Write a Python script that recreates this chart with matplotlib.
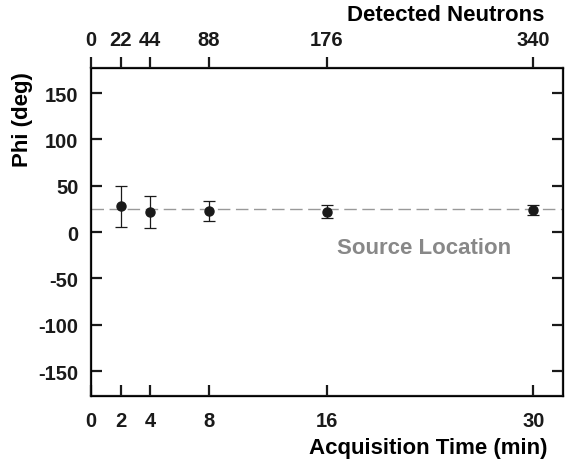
import numpy as np
import matplotlib
matplotlib.use("Agg")
import matplotlib.pyplot as plt

plt.rcParams['font.family'] = ['Liberation Sans', 'DejaVu Sans']
plt.rcParams['font.weight'] = 'bold'

# data
time_min = [2, 4, 8, 16, 30]
phi_deg = [28, 22, 23, 22, 23.5]
phi_err = [22, 17, 10.5, 7, 5.5]
source_phi = 25

bottom_ticks = [0, 2, 4, 8, 16, 30]
bottom_labels = ['0', '2', '4', '8', '16', '30']
neutron_labels = ['0', '22', '44', '88', '176', '340']
y_ticks = [-150, -100, -50, 0, 50, 100, 150]

fig = plt.figure(figsize=(5.69, 4.64), dpi=100)
ax = fig.add_axes([0.160, 0.144, 0.829, 0.707])

ax.axhline(source_phi, color='#999999', lw=1.0, dashes=(9, 4), zorder=1)
ax.errorbar(time_min, phi_deg, yerr=phi_err, fmt='o', color='#1a1a1a',
            ms=6.5, elinewidth=0.9, capsize=4, capthick=0.9, zorder=3)
ax.text(22.6, -17, 'Source Location', color='#888888', fontsize=16,
        fontweight='bold', ha='center', va='center')

ax.set_xlim(0, 32)
ax.set_ylim(-177, 177)
ax.set_xticks(bottom_ticks)
ax.set_xticklabels(bottom_labels)
ax.set_yticks(y_ticks)
ax.set_yticklabels([str(v) for v in y_ticks])

for s in ax.spines.values():
    s.set_linewidth(1.6)
    s.set_color('#1a1a1a')

ax.tick_params(axis='x', direction='in', length=8, width=1.6, pad=11,
               labelsize=14.5, colors='#1a1a1a')
ax.tick_params(axis='y', direction='in', length=8, width=1.6, pad=9,
               labelsize=14.5, colors='#1a1a1a', right=True)

top = ax.twiny()
top.set_xlim(ax.get_xlim())
top.set_xticks(bottom_ticks)
top.set_xticklabels(neutron_labels)
top.tick_params(axis='x', direction='out', length=8, width=1.6, pad=6,
                labelsize=14.5, colors='#1a1a1a')

ax.set_xlabel('Acquisition Time (min)', fontsize=16, fontweight='bold',
              ha='right', va='center')
ax.xaxis.set_label_coords(0.968, -0.155)
ax.set_ylabel('Phi (deg)', fontsize=16, fontweight='bold', va='center')
ax.yaxis.set_label_coords(-0.146, 0.845)
top.set_xlabel('Detected Neutrons', fontsize=16, fontweight='bold',
               ha='right', va='center')
top.xaxis.set_label_coords(0.962, 1.165)

fig.savefig('out.png', dpi=100)
